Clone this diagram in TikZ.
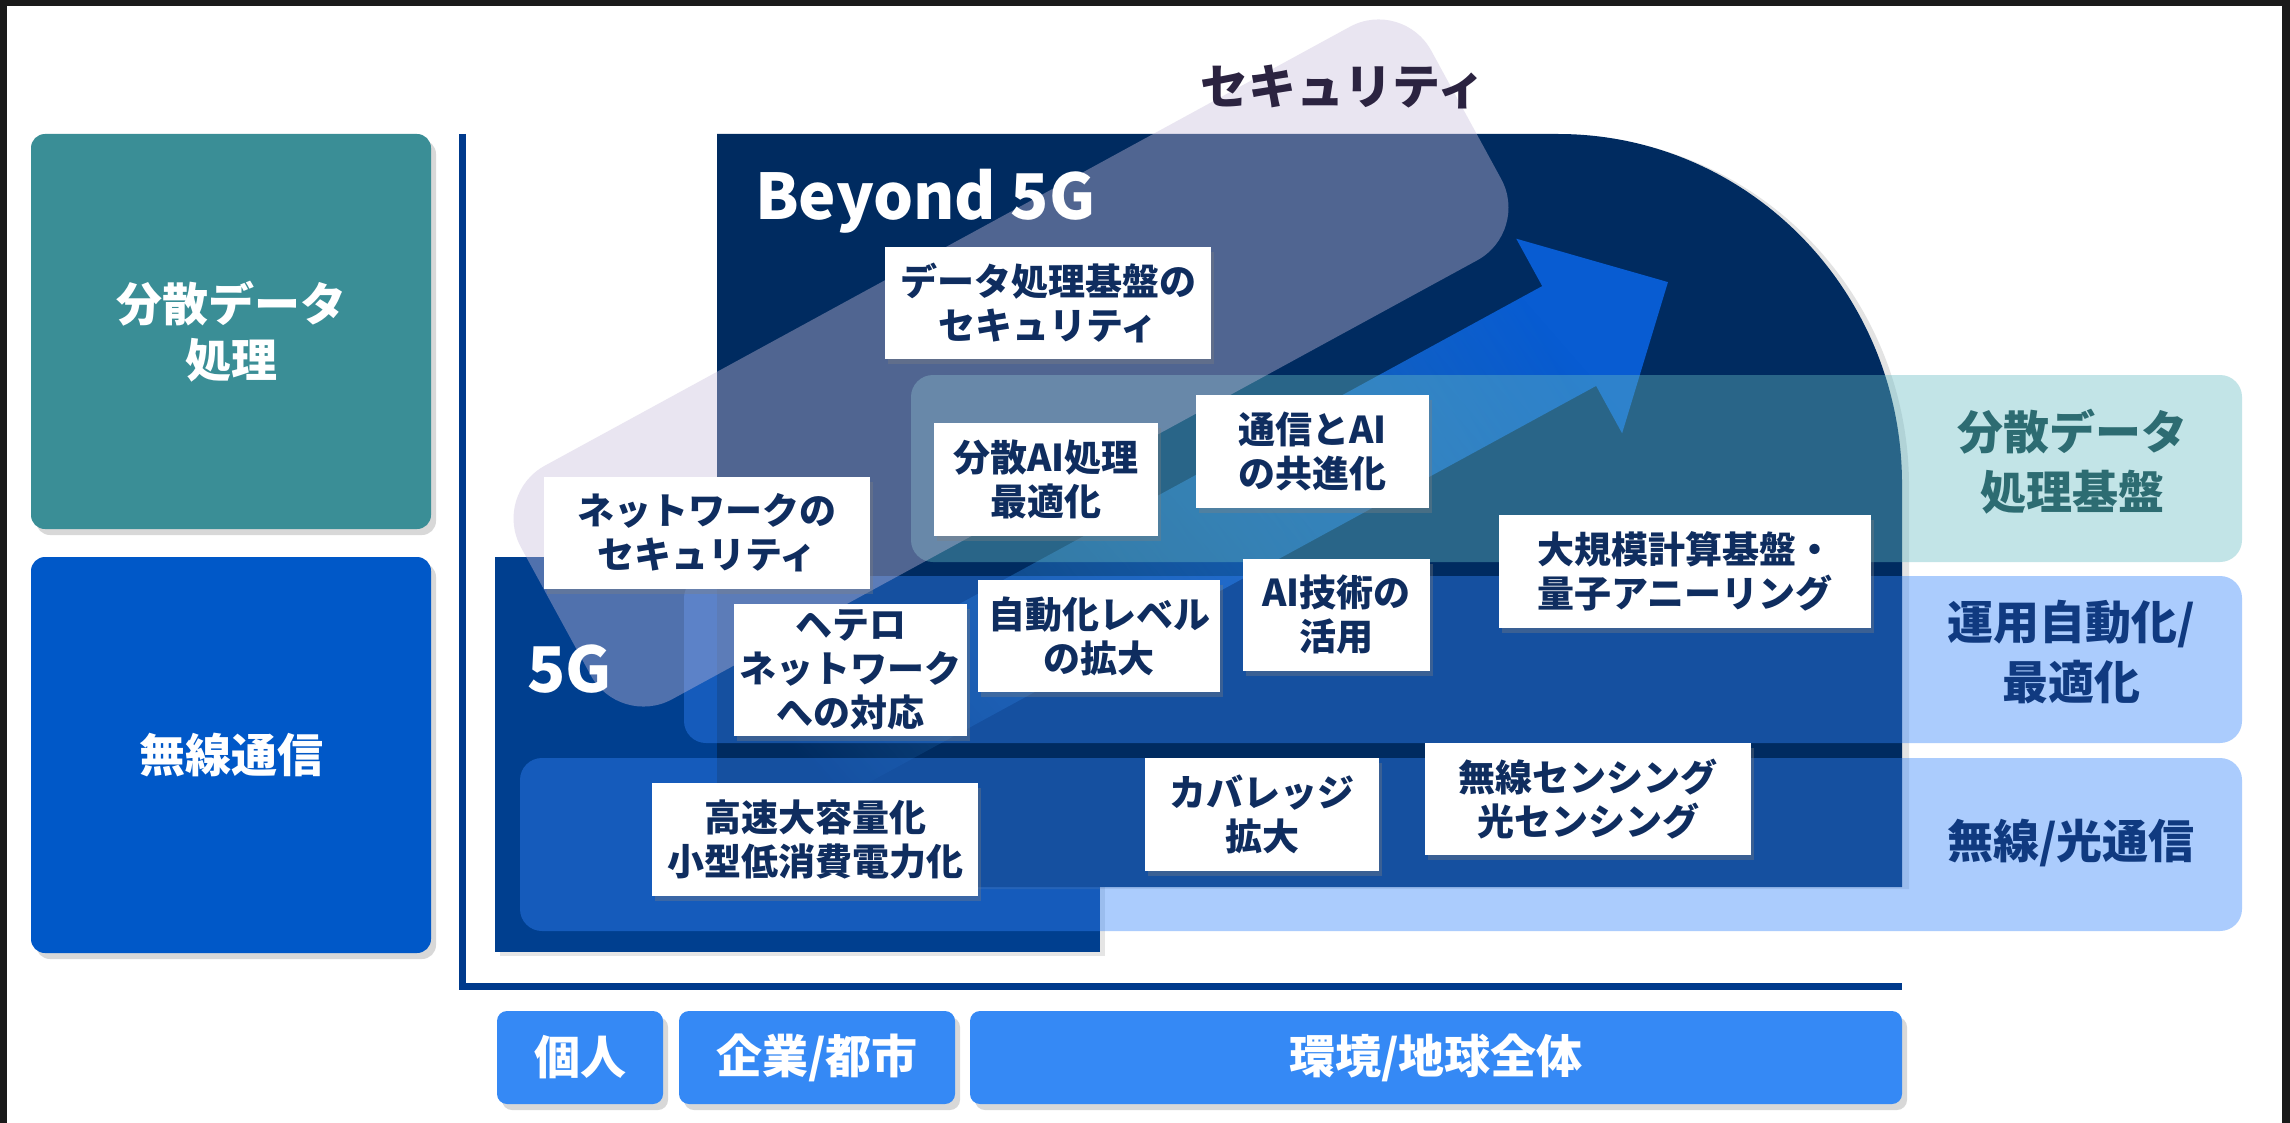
\documentclass[tikz,border=0pt]{standalone}
\usepackage{fontspec}
\setmainfont{Noto Sans CJK JP}
\usetikzlibrary{shadows,fadings}
\definecolor{framec}{RGB}{26,26,26}
\definecolor{navy}{RGB}{0,43,96}
\definecolor{fiveg}{RGB}{0,63,143}
\definecolor{tealbox}{RGB}{58,142,150}
\definecolor{bluebox}{RGB}{0,88,200}
\definecolor{scopeblue}{RGB}{53,137,245}
\definecolor{axisc}{RGB}{0,58,140}
\definecolor{tealband}{RGB}{104,189,197}
\definecolor{blueband}{RGB}{51,133,252}
\definecolor{secfill}{RGB}{200,190,220}
\definecolor{arrowhead}{RGB}{8,92,210}
\definecolor{arrowtail}{RGB}{70,170,250}
\definecolor{boxtext}{RGB}{15,45,95}
\definecolor{tealtext}{RGB}{45,108,114}
\definecolor{bluetext}{RGB}{16,58,128}
\definecolor{sectext}{RGB}{43,35,64}
\tikzfading[name=arrowfade, left color=transparent!100, middle color=transparent!15, right color=transparent!0]
\tikzset{
  catbox/.style={rounded corners=14, text=white, align=center, inner sep=0,
    font=\bfseries\fontsize{46}{56}\selectfont,
    drop shadow={shadow xshift=5pt, shadow yshift=-6pt, opacity=0.3}},
  scopebox/.style={rounded corners=10, fill=scopeblue, text=white, align=center, inner sep=0,
    minimum height=93, font=\bfseries\fontsize{46}{56}\selectfont,
    drop shadow={shadow xshift=5pt, shadow yshift=-6pt, opacity=0.3}},
  wbox/.style={fill=white, text=boxtext, align=center, inner sep=0,
    font=\bfseries\fontsize{37}{44}\selectfont,
    drop shadow={shadow xshift=3pt, shadow yshift=-5pt, opacity=0.35}},
  rlabel/.style={align=center, inner sep=0, font=\bfseries\fontsize{46}{60}\selectfont},
  gentext/.style={text=white, inner sep=0, font=\bfseries\fontsize{63}{76}\selectfont},
  axisline/.style={draw=axisc, line width=7},
  tband/.style={fill=tealband, fill opacity=0.4, rounded corners=22},
  bband/.style={fill=blueband, fill opacity=0.41, rounded corners=22}
}
\begin{document}
\begin{tikzpicture}[x=1pt,y=-1pt]
\useasboundingbox (0,0) rectangle (2290,1123);
\fill[white] (0,0) rectangle (2290,1123);
% frame
\fill[framec] (0,0) rectangle (2290,6);
\fill[framec] (0,0) rectangle (7,1123);
\fill[framec] (2282,0) rectangle (2290,1123);

% left category boxes
\node[catbox, fill=tealbox, minimum width=400, minimum height=395] (catdata) at (231,331.5) {分散データ\\処理};
\node[catbox, fill=bluebox, minimum width=400, minimum height=396] (catwl) at (231,755) {無線通信};

% axes
\coordinate (axtop) at (462,134);
\coordinate (axcorner) at (462,986);
\coordinate (axright) at (1902,986);
\draw[axisline] (axtop) -- (axcorner) -- (axright);

% bottom scope boxes
\node[scopebox, minimum width=166] (personal) at (580,1057.5) {個人};
\node[scopebox, minimum width=276] (city) at (817,1057.5) {企業/都市};
\node[scopebox, minimum width=932] (earth) at (1436,1057.5) {環境/地球全体};

% 5G region
\fill[fiveg, drop shadow={shadow xshift=5pt, shadow yshift=-4pt, opacity=0.2}] (495,557) rectangle (1100,952);
% Beyond 5G region
\fill[navy, drop shadow={shadow xshift=7pt, shadow yshift=-2pt, opacity=0.22}]
  (717,134) -- (1558,134) .. controls (1748,134) and (1902,291) .. (1902,484)
  -- (1902,887) -- (717,887) -- cycle;

% evolution arrow
\shade[bottom color=arrowtail, top color=arrowhead, shading angle=-61.4,
       path fading=arrowfade, fading angle=28.6]
  (680,755) -- (1544,284) -- (1518,236.5) -- (1670,280) -- (1624,431.5)
  -- (1598,384) -- (734,855) -- cycle;

% layer bands
\fill[tband] (911,375) rectangle (2242,562);
\fill[bband] (684,576) rectangle (2242,743);
\fill[bband] (520,758) rectangle (2242,931);

% security band
\begin{scope}[shift={(1011,363)}, rotate=28.6]
  \fill[secfill, fill opacity=0.4, rounded corners=60] (-518.5,-133) rectangle (518.5,133);
\end{scope}

% right labels
\node[rlabel, text=tealtext] (lbdata) at (2072,462) {分散データ\\処理基盤};
\node[rlabel, text=bluetext] (lbops) at (2071,652) {運用自動化/\\最適化};
\node[rlabel, text=bluetext] (lbwl) at (2071,843) {無線/光通信};

% white item boxes
\node[wbox, minimum width=326, minimum height=112] (secdata) at (1048,303) {データ処理基盤の\\セキュリティ};
\node[wbox, minimum width=224, minimum height=113] (aiopt) at (1046,479.5) {分散AI処理\\最適化};
\node[wbox, minimum width=233, minimum height=113] (aico) at (1312.5,451.5) {通信とAI\\の共進化};
\node[wbox, minimum width=326, minimum height=112] (netsec) at (707,533) {ネットワークの\\セキュリティ};
\node[wbox, minimum width=233, minimum height=132] (hetero) at (850.5,670) {ヘテロ\\ネットワーク\\への対応};
\node[wbox, minimum width=242, minimum height=112] (autolv) at (1099,636) {自動化レベル\\の拡大};
\node[wbox, minimum width=187, minimum height=112] (aiuse) at (1336.5,615) {AI技術の\\活用};
\node[wbox, minimum width=372, minimum height=113] (bigcomp) at (1685,571.5) {大規模計算基盤・\\量子アニーリング};
\node[wbox, minimum width=326, minimum height=113] (highcap) at (815,839.5) {高速大容量化\\小型低消費電力化};
\node[wbox, minimum width=234, minimum height=113] (cover) at (1262,814.5) {カバレッジ\\拡大};
\node[wbox, minimum width=326, minimum height=112] (sensing) at (1588,799) {無線センシング\\光センシング};

% titles
\node[gentext, anchor=base west] (b5g) at (755,220) {Beyond 5G};
\node[gentext, anchor=base west] (fg) at (527,692) {5G};
\node[text=sectext, inner sep=0, font=\bfseries\fontsize{48}{56}\selectfont] (sectitle) at (1343,87) {セキュリティ};
\end{tikzpicture}
\end{document}
